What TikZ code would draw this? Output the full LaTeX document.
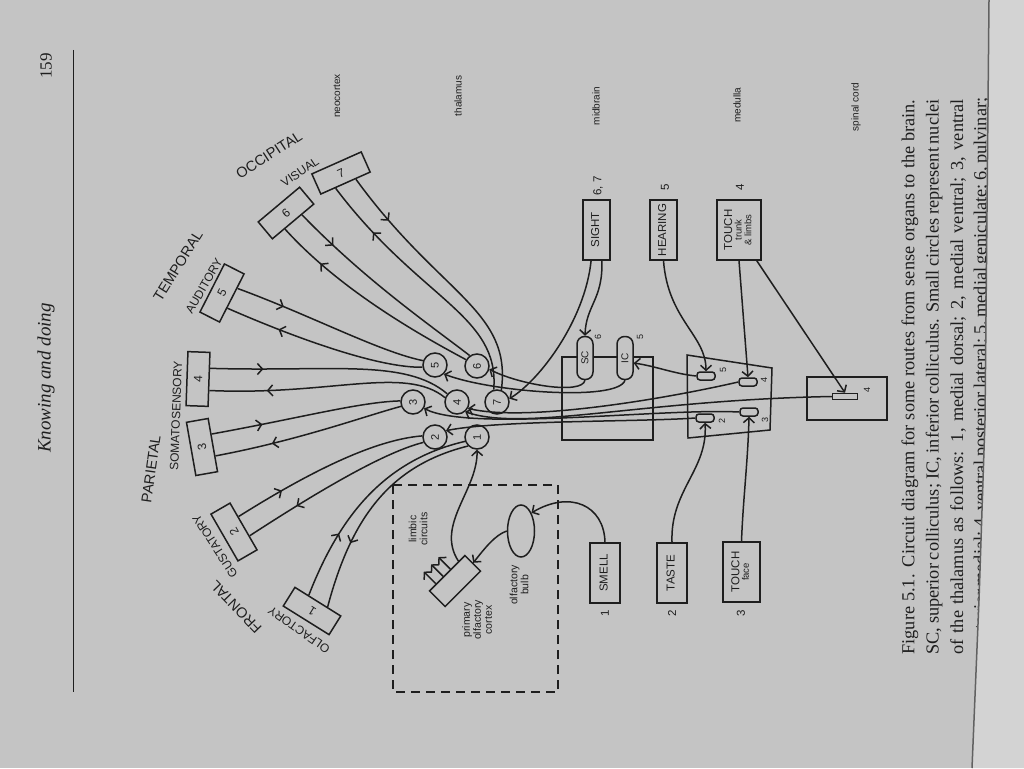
\documentclass[tikz,border=0pt]{standalone}
\usepackage{fontspec}
\setmainfont{Liberation Serif}
\setsansfont{Liberation Sans}
\usetikzlibrary{arrows.meta,calc,decorations.markings,shapes.geometric}

\definecolor{page}{RGB}{196,196,196}
\definecolor{ink}{RGB}{30,30,30}

\newcommand{\vtext}[1]{\rotatebox{90}{\renewcommand{\arraystretch}{0.8}\begin{tabular}{@{}c@{}}#1\end{tabular}}}

\tikzset{
  barb/.tip={Straight Barb[length=5pt,width=11pt]},
  fibre/.style={draw=ink, line width=1.5pt},
  away/.style={postaction={decorate,decoration={markings,mark=at position #1 with {\arrow{barb}}}}},
  toward/.style={postaction={decorate,decoration={markings,mark=at position #1 with {\arrowreversed{barb}}}}},
  cortex/.style={draw=ink, line width=1.5pt, fill=page, minimum width=54pt, minimum height=22pt, inner sep=0pt, text=ink, font=\sffamily\fontsize{12}{12}\selectfont},
  nucleus/.style={circle, draw=ink, line width=1.5pt, fill=page, minimum size=24pt, inner sep=0pt, text=ink, font=\sffamily\fontsize{11}{11}\selectfont},
  organ/.style={draw=ink, line width=1.5pt, fill=page, minimum height=60pt, inner sep=1pt, text=ink, font=\sffamily\fontsize{11.5}{11.5}\selectfont},
  knob/.style={draw=ink, line width=1.5pt, fill=page, rounded corners=3pt, minimum width=18pt, minimum height=8pt, inner sep=0pt},
  colliculus/.style={draw=ink, line width=1.5pt, fill=page, rounded corners=7.5pt, minimum width=16pt, minimum height=43pt, inner sep=0pt, text=ink, font=\sffamily\fontsize{10}{10}\selectfont},
  lobe/.style={text=ink, inner sep=1pt, font=\sffamily\fontsize{14.5}{14.5}\selectfont},
  area/.style={text=ink, inner sep=1pt, font=\sffamily\fontsize{12}{12}\selectfont},
  tag/.style={text=ink, rotate=90, font=\sffamily\fontsize{11.5}{11.5}\selectfont},
  small/.style={text=ink, rotate=90, inner sep=0pt, font=\sffamily\fontsize{9}{9}\selectfont},
  level/.style={text=ink, rotate=90, font=\sffamily\fontsize{10}{10}\selectfont},
  note/.style={text=ink, rotate=90, align=center, font=\sffamily\fontsize{10.5}{11}\selectfont},
  caption/.style={text=ink, rotate=90, inner sep=0pt, font=\fontsize{18.3}{18.3}\selectfont},
}

\begin{document}
\begin{tikzpicture}[x=1pt, y=-1pt]
  % Page
  \fill[page] (0,0) rectangle (1024,768);
  \useasboundingbox (0,0) rectangle (1024,768);

  % Titre courant
  \draw[ink, line width=1pt] (73,50) -- (73,692);
  \node[text=ink, rotate=90, font=\fontsize{17}{17}\selectfont] (folio) at (46,66) {159};
  \node[text=ink, rotate=90, font=\itshape\fontsize{19}{19}\selectfont] (head) at (46,378) {Knowing and doing};

  % Niveaux
  \foreach \nm/\x/\y/\lab in {neo/337/96/neocortex, thal/458/96/thalamus, mid/596/106/midbrain, med/737/105/medulla, cord/856/107/spinal cord}
    \node[level] (\nm) at (\x,\y) {\lab};

  % Cadres
  \draw[ink, line width=1.5pt, dash pattern=on 9pt off 6pt] (393,485) rectangle (558,692);
  \draw[ink, line width=1.5pt] (562,357) rectangle (653,440);
  \draw[ink, line width=1.5pt] (687,355) -- (772,368) -- (770,430) -- (688,438) -- cycle;
  \draw[ink, line width=1.5pt] (807,377) rectangle (887,420);

  % Aires du cortex
  \foreach \n/\x/\y/\a in {1/312/611/148, 2/234/532/120, 3/202/447/100, 4/198/379/88, 5/222/293/63, 6/286/213/40, 7/341/173/24} {
    \node[cortex, rotate=\a] (b\n) at (\x,\y) {\n};
    \coordinate (a\n) at ($(b\n.south west)!0.3!(b\n.south east)$);
    \coordinate (e\n) at ($(b\n.south west)!0.7!(b\n.south east)$);
  }

  % Noyaux du thalamus
  \foreach \n/\x/\y in {1/477/437, 2/435/437, 3/413/402, 4/457/402, 5/435/365, 6/477/366, 7/497/402}
    \node[nucleus] (t\n) at (\x,\y) {\rotatebox{90}{\n}};

  % Lobes
  \node[lobe, rotate=33] (occ) at (269,155) {OCCIPITAL};
  \node[area, rotate=34] (vis) at (300,172) {VISUAL};
  \node[lobe, rotate=58] (temp) at (178,266) {TEMPORAL};
  \node[area, rotate=60] (aud) at (204,286) {AUDITORY};
  \node[area, rotate=88] (soma) at (176,416) {SOMATOSENSORY};
  \node[lobe, rotate=82] (par) at (151,469) {PARIETAL};
  \node[area, rotate=123] (gust) at (215,546) {GUSTATORY};
  \node[lobe, rotate=134] (front) at (236,607) {FRONTAL};
  \node[area, rotate=145] (olf) at (299,630) {OLFACTORY};

  % Mesencephale, bulbe, moelle
  \node[colliculus] (sc) at (585,358) {\rotatebox{90}{SC}};
  \node[colliculus] (ic) at (625,358) {\rotatebox{90}{IC}};
  \node[knob] (m5) at (706,376) {};
  \node[knob] (m4) at (748,382) {};
  \node[knob] (m2) at (705,418) {};
  \node[knob] (m3) at (749,412) {};
  \node[draw=ink, line width=1.5pt, fill=page, minimum width=25pt, minimum height=6pt, inner sep=0pt] (sp) at (845,396.5) {};
  \foreach \nm/\x/\y/\lab in {ksc/598/337/6, kic/640/337/5, km5/723/370/5, km4/764/380/4, km2/722/421/2, km3/765/420/3, ksp/867/390/4}
    \node[small] (\nm) at (\x,\y) {\lab};

  % Organes des sens
  \node[organ, minimum width=27pt] (sight) at (596.5,230) {\vtext{SIGHT}};
  \node[organ, minimum width=27pt] (hearing) at (663.5,230) {\vtext{HEARING}};
  \node[organ, minimum width=44pt] (trunk) at (739,230) {\vtext{TOUCH\\\fontsize{9.5}{10}\selectfont trunk\\\fontsize{9.5}{10}\selectfont \& limbs}};
  \node[organ, minimum width=30pt] (smell) at (605,573) {\vtext{SMELL}};
  \node[organ, minimum width=30pt] (taste) at (672,573) {\vtext{TASTE}};
  \node[organ, minimum width=37pt] (face) at (741.5,572) {\vtext{TOUCH\\\fontsize{9.5}{10}\selectfont face}};
  \foreach \nm/\x/\y/\lab in {s67/598/186/{6, 7}, s5/665/187/5, s4/740/187/4, s1/605/613/1, s2/672/613/2, s3/741/613/3}
    \node[tag] (\nm) at (\x,\y) {\lab};

  % Voie olfactive
  \node[ellipse, draw=ink, line width=1.5pt, fill=page, minimum width=27pt, minimum height=52pt, inner sep=0pt] (bulb) at (521,531) {};
  \node[cortex, rotate=45, minimum width=50pt] (poc) at (455,581) {};
  \coordinate (pocout) at ($(poc.north west)!0.82!(poc.north east)$);
  \node[note] (limbic) at (418,529) {limbic\\circuits};
  \node[note] (pocl) at (477,620) {primary\\olfactory\\cortex};
  \node[note] (bulbl) at (519,585) {olfactory\\bulb};

  % Cortex <-> thalamus
  \draw[fibre, away=0.2] (e7) .. controls (440,295) and (512,310) .. (t7.70);
  \draw[fibre, toward=0.22] (a7) .. controls (420,300) and (500,315) .. (t7.105);
  \draw[fibre, away=0.2] (e6) .. controls (365,280) and (430,325) .. (t6.125);
  \draw[fibre, toward=0.22] (a6) .. controls (340,290) and (420,335) .. (t6.150);
  \draw[fibre, away=0.25] (e5) .. controls (310,315) and (380,352) .. (t5.160);
  \draw[fibre, toward=0.27] (a5) .. controls (300,340) and (380,368) .. (t5.190);
  \draw[fibre, away=0.22] (e4) .. controls (330,372) and (405,358) .. (t4.140);
  \draw[fibre, toward=0.24] (a4) .. controls (330,396) and (405,365) .. (t4.160);
  \draw[fibre, away=0.27] (e3) .. controls (300,418) and (360,402) .. (t3.175);
  \draw[fibre, toward=0.3] (a3) .. controls (300,440) and (365,416) .. (t3.200);
  \draw[fibre, away=0.25] (e2) .. controls (300,478) and (370,440) .. (t2.175);
  \draw[fibre, toward=0.28] (a2) .. controls (320,490) and (385,452) .. (t2.205);
  \draw[fibre, away=0.3] (e1) .. controls (340,515) and (385,460) .. (t1.200);
  \draw[fibre, toward=0.3] (a1) .. controls (352,515) and (392,465) .. (t1.225);

  % Voies sensorielles
  \draw[fibre, -barb] (sight.-80) .. controls (603,300) and (586,305) .. (sc.north);
  \draw[fibre, -barb] (sight.-100) .. controls (585,320) and (540,380) .. (t7.15);
  \draw[fibre, -barb] (sc.south) .. controls (582,395) and (520,385) .. (t6.-15);
  \draw[fibre, -barb] (ic.south) .. controls (618,402) and (490,392) .. (t5.-45);
  \draw[fibre, -barb] (hearing.south) .. controls (668,320) and (706,335) .. (m5.north);
  \draw[fibre, -barb] (m5.west) .. controls (675,374) and (655,366) .. (ic.-30);
  \draw[fibre, -barb] (trunk.south) -- (m4.north);
  \draw[fibre, -barb] (trunk.-60) -- (sp.north);
  \draw[fibre, -barb] (sp.west) .. controls (640,400) and (525,432) .. (t4.-50);
  \draw[fibre, -barb] (m4.west) .. controls (660,400) and (525,422) .. (t4.-30);
  \draw[fibre, -barb] (m3.west) .. controls (660,408) and (470,432) .. (t3.-30);
  \draw[fibre, -barb] (m2.west) .. controls (640,422) and (500,420) .. (t2.30);
  \draw[fibre, -barb] (taste.north) .. controls (670,490) and (708,470) .. (m2.south);
  \draw[fibre, -barb] (face.north) .. controls (743,500) and (748,460) .. (m3.south);
  \draw[fibre, -barb] (smell.north) .. controls (604,505) and (570,490) .. (bulb.60);
  \draw[fibre, -barb] (bulb.west) .. controls (495,535) and (485,548) .. (poc.east);
  \draw[fibre, -barb] (pocout) .. controls (435,525) and (478,490) .. (t1.south);
  \foreach \f in {0.2,0.4,0.6}
    \draw[fibre, -barb] ($(poc.north west)!\f!(poc.north east)$) -- ++(-12,-12);

  % Legende
  \node[caption] (cap1) at (910,377) {\hbox to 555pt{Figure 5.1. Circuit diagram for some routes from sense organs to the brain.}};
  \node[caption] (cap2) at (934,377) {\hbox to 555pt{SC, superior colliculus; IC, inferior colliculus. Small circles represent nuclei}};
  \node[caption] (cap3) at (958,377) {\hbox to 555pt{of the thalamus as follows: 1, medial dorsal; 2, medial ventral; 3, ventral}};
  \node[caption] (cap4) at (982,377) {\hbox to 555pt{posterior medial; 4, ventral posterior lateral; 5, medial geniculate; 6, pulvinar;}};

  % Bord de la page
  \fill[page!75!white] (989,0) -- (1024,0) -- (1024,768) -- (972,768) -- (979,600) -- (985,420) -- cycle;
  \draw[ink!70, line width=1.5pt] (989,0) -- (985,420) -- (979,600) -- (972,768);
\end{tikzpicture}
\end{document}
